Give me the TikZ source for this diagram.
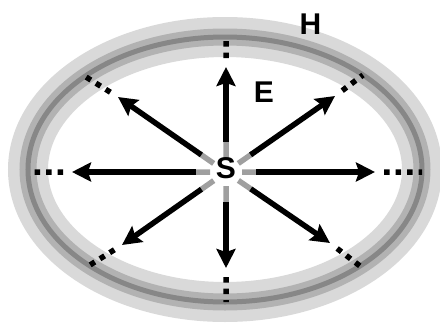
\documentclass[tikz,border=0pt]{standalone}
\usepackage{fontspec}
\setmainfont{Liberation Sans}
\usepackage{tikz}
\usetikzlibrary{arrows.meta,calc}
\definecolor{BandLight}{RGB}{217,217,217}
\definecolor{BandMid}{RGB}{178,178,178}
\definecolor{BandDark}{RGB}{135,135,135}

\begin{document}
\begin{tikzpicture}[x=1pt, y=-1pt,
  band/.style={line width=40pt, BandLight},
  ray/.style={line width=5.5pt, -{Stealth[length=19pt,width=19pt,inset=3pt]}},
  fade/.style={line width=5.5pt, gray!75},
  dots/.style={line width=5.5pt, dash pattern=on 5.5pt off 6pt},
  lbl/.style={font=\bfseries\fontsize{30}{30}\selectfont, inner sep=0pt}]
\useasboundingbox (0,0) rectangle (440,322);
% the conductor ring
\coordinate (o) at (225,169.5);
\draw[band] (o) ellipse [x radius=197, y radius=132.5];
\draw[line width=17pt, BandMid] (o) ellipse [x radius=197, y radius=132.5];
\draw[line width=5pt, BandDark] (o) ellipse [x radius=197, y radius=132.5];
% source and field directions
\coordinate (c) at (226,172);
\coordinate (tn) at (226,67);   \coordinate (en) at (226,40);
\coordinate (ts) at (226,268);  \coordinate (es) at (226,302);
\coordinate (tw) at (72,172);   \coordinate (ew) at (29,172);
\coordinate (te) at (375,172);  \coordinate (ee) at (422,172);
\coordinate (tnw) at (118,97);  \coordinate (enw) at (86,77);
\coordinate (tne) at (335,96);  \coordinate (ene) at (363,75);
\coordinate (tse) at (330,243); \coordinate (ese) at (360,266);
\coordinate (tsw) at (122,245); \coordinate (esw) at (90,265);
\draw[fade] ($(c)!14pt!(tn)$) -- ($(c)!32pt!(tn)$) ($(c)!14pt!(ts)$) -- ($(c)!32pt!(ts)$)
            ($(c)!16pt!(tw)$) -- ($(c)!32pt!(tw)$) ($(c)!16pt!(te)$) -- ($(c)!32pt!(te)$)
            ($(c)!15pt!(tnw)$) -- ($(c)!32pt!(tnw)$) ($(c)!15pt!(tne)$) -- ($(c)!32pt!(tne)$)
            ($(c)!15pt!(tse)$) -- ($(c)!32pt!(tse)$) ($(c)!15pt!(tsw)$) -- ($(c)!32pt!(tsw)$);
\draw[ray] ($(c)!30pt!(tn)$) -- (tn);
\draw[ray] ($(c)!30pt!(ts)$) -- (ts);
\draw[ray] ($(c)!30pt!(tw)$) -- (tw);
\draw[ray] ($(c)!30pt!(te)$) -- (te);
\draw[ray] ($(c)!30pt!(tnw)$) -- (tnw);
\draw[ray] ($(c)!30pt!(tne)$) -- (tne);
\draw[ray] ($(c)!30pt!(tse)$) -- (tse);
\draw[ray] ($(c)!30pt!(tsw)$) -- (tsw);
\draw[dots] ($(tn)!9pt!(en)$) -- (en) ($(ts)!9pt!(es)$) -- (es)
            ($(tw)!9pt!(ew)$) -- (ew) ($(te)!9pt!(ee)$) -- (ee)
            ($(tnw)!9pt!(enw)$) -- (enw) ($(tne)!9pt!(ene)$) -- (ene)
            ($(tse)!9pt!(ese)$) -- (ese) ($(tsw)!9pt!(esw)$) -- (esw);
\node[lbl] (src) at (226,168) {S};
\node[lbl] (efield) at (264,92) {E};
\node[lbl] (hfield) at (310.5,24) {H};
\end{tikzpicture}
\end{document}
